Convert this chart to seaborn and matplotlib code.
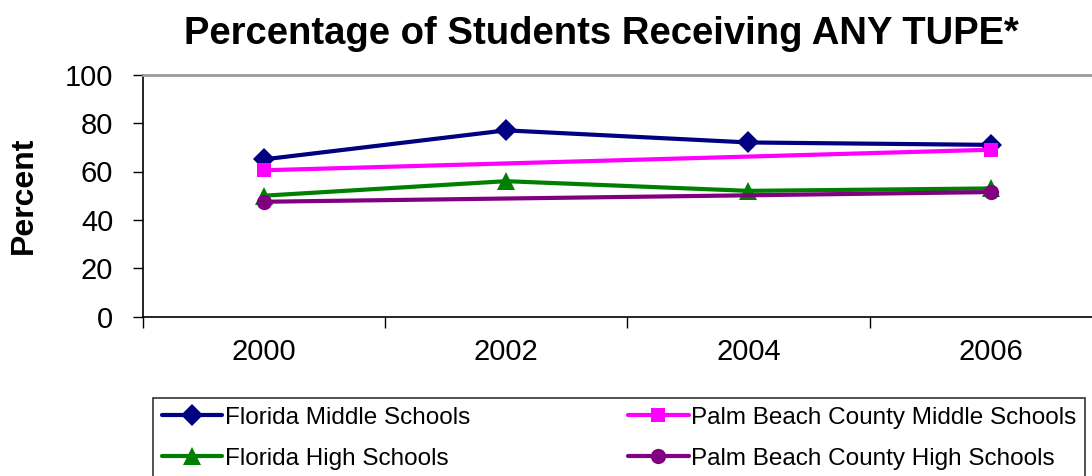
import numpy as np
import pandas as pd
import matplotlib
matplotlib.use("Agg")
import matplotlib.pyplot as plt
import seaborn as sns
from matplotlib.ticker import FixedLocator, NullFormatter, FixedFormatter

years = [2000, 2002, 2004, 2006]
florida_middle = [65, 77, 72, 71]
palm_middle = [60.5, np.nan, np.nan, 69]
florida_high = [50, 56, 52, 53]
palm_high = [47.5, np.nan, np.nan, 51.5]

series_names = ["Florida Middle Schools", "Florida High Schools",
                "Palm Beach County Middle Schools", "Palm Beach County High Schools"]
series_values = [florida_middle, florida_high, palm_middle, palm_high]
colors = ["#000080", "#008000", "#FF00FF", "#800080"]
markers = ["D", "^", "s", "o"]
msizes = [11.5, 12.5, 10.5, 11]

sns.set_theme(style="white")
plt.rcParams["font.family"] = ["Liberation Sans", "DejaVu Sans"]
plt.rcParams["text.color"] = "black"
plt.rcParams["axes.labelcolor"] = "black"
plt.rcParams["xtick.color"] = "black"
plt.rcParams["ytick.color"] = "black"

fig = plt.figure(figsize=(10.92, 4.76), dpi=100)
W, H = 1092, 476
left, right, top, bottom = 142.5, 1112, 74.7, 316.7
ax = fig.add_axes([left / W, 1 - bottom / H, (right - left) / W, (bottom - top) / H])

for name, vals, c, m, ms in zip(series_names, series_values, colors, markers, msizes):
    df = pd.DataFrame({"year": years, "value": vals}).dropna()
    sns.lineplot(data=df, x="year", y="value", ax=ax, color=c, marker=m,
                 markersize=ms, markeredgewidth=0, linewidth=3.0, label=name)

ax.set_xlim(1999, 2007)
ax.set_ylim(0, 100)
ax.set_yticks([0, 20, 40, 60, 80, 100])
ax.set_yticklabels(["0", "20", "40", "60", "80", "100"])
ax.xaxis.set_major_locator(FixedLocator([1999, 2001, 2003, 2005]))
ax.xaxis.set_major_formatter(NullFormatter())
ax.xaxis.set_minor_locator(FixedLocator(years))
ax.xaxis.set_minor_formatter(FixedFormatter([str(y) for y in years]))
ax.tick_params(axis="x", which="major", direction="out", length=8, width=1, color="black", bottom=True)
ax.tick_params(axis="x", which="minor", length=0, pad=15, labelsize=21, bottom=True)
ax.tick_params(axis="y", direction="out", length=7, width=1, color="black", pad=14, labelsize=21, left=True)
ax.set_xlabel("")
ax.set_ylabel("Percent", fontsize=23, fontweight="bold")
ax.yaxis.set_label_coords(-(142.5 - 24) / (right - left), 0.5)
ax.yaxis.label.set_va("center")

for s in ["left", "bottom"]:
    ax.spines[s].set_color("black")
    ax.spines[s].set_linewidth(1.2)
ax.spines["top"].set_color("#9a9a9a")
ax.spines["top"].set_linewidth(2)
ax.spines["right"].set_visible(False)

fig.text(601 / W, 1 - 34 / H, "Percentage of Students Receiving ANY TUPE*",
         ha="center", va="center", fontsize=27.5, fontweight="bold")

handles, labels = ax.get_legend_handles_labels()
ax.get_legend().remove()
leg = fig.legend(handles, labels, loc="upper left", bbox_to_anchor=(153 / W, 1 - 398 / H),
                 ncol=2, fontsize=17.5, frameon=True, fancybox=False, edgecolor="black",
                 handlelength=2.5, handletextpad=0.1, columnspacing=6.5, labelspacing=0.8,
                 borderpad=0.35, borderaxespad=0)
leg.get_frame().set_linewidth(1.2)

fig.savefig("out.png", dpi=100)
